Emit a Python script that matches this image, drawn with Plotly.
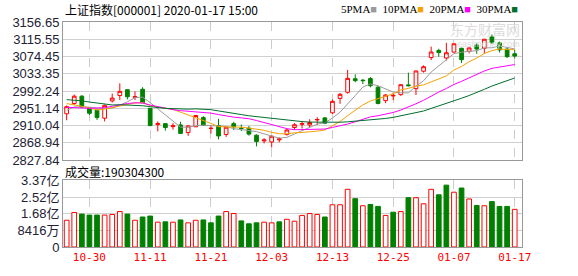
import plotly.graph_objects as go
import pandas as pd

# ---------------- data ----------------
dates = ["2019-10-25", "2019-10-28", "2019-10-29", "2019-10-30", "2019-10-31",
         "2019-11-01", "2019-11-04", "2019-11-05", "2019-11-06", "2019-11-07",
         "2019-11-08", "2019-11-11", "2019-11-12", "2019-11-13", "2019-11-14",
         "2019-11-15", "2019-11-18", "2019-11-19", "2019-11-20", "2019-11-21",
         "2019-11-22", "2019-11-25", "2019-11-26", "2019-11-27", "2019-11-28",
         "2019-11-29", "2019-12-02", "2019-12-03", "2019-12-04", "2019-12-05",
         "2019-12-06", "2019-12-09", "2019-12-10", "2019-12-11", "2019-12-12",
         "2019-12-13", "2019-12-16", "2019-12-17", "2019-12-18", "2019-12-19",
         "2019-12-20", "2019-12-23", "2019-12-24", "2019-12-25", "2019-12-26",
         "2019-12-27", "2019-12-30", "2019-12-31", "2020-01-02", "2020-01-03",
         "2020-01-06", "2020-01-07", "2020-01-08", "2020-01-09", "2020-01-10",
         "2020-01-13", "2020-01-14", "2020-01-15", "2020-01-16", "2020-01-17"]

opens = [2938.1, 2962.5, 2980.0, 2951.9, 2946.6, 2927.6, 2968.7, 2981.6, 2995.4, 2977.5,
         2996.5, 2951.2, 2912.5, 2914.6, 2907.5, 2911.6, 2893.4, 2907.1, 2929.0, 2903.0,
         2910.0, 2888.8, 2914.6, 2904.0, 2903.9, 2887.2, 2873.5, 2871.0, 2876.0, 2888.8,
         2905.5, 2913.0, 2911.6, 2923.5, 2928.3, 2940.4, 2974.7, 2989.3, 3021.5, 3018.0,
         3021.9, 3001.4, 2969.4, 2980.5, 2983.6, 3006.9, 2998.0, 3039.4, 3072.0, 3089.0,
         3070.9, 3085.0, 3094.0, 3087.0, 3102.0, 3094.0, 3121.0, 3107.0, 3092.0, 3081.0]
highs = [2958.0, 2983.6, 2982.5, 2953.0, 2948.0, 2960.0, 2986.1, 3010.5, 2997.0, 2991.6,
         3001.4, 2952.0, 2919.9, 2915.5, 2916.0, 2919.2, 2910.0, 2935.0, 2932.5, 2911.0,
         2926.0, 2908.0, 2919.0, 2912.5, 2909.0, 2889.0, 2880.0, 2886.0, 2882.0, 2902.0,
         2916.0, 2921.0, 2925.0, 2930.0, 2930.5, 2972.0, 2987.5, 3042.5, 3032.0, 3021.0,
         3025.5, 3004.5, 2985.0, 2988.0, 3008.5, 3036.0, 3041.0, 3053.5, 3098.0, 3093.0,
         3107.0, 3105.0, 3095.5, 3096.0, 3105.5, 3116.5, 3127.0, 3110.0, 3096.0, 3091.0]
lows = [2922.6, 2959.6, 2951.5, 2935.0, 2923.5, 2919.9, 2965.0, 2971.0, 2972.4, 2971.0,
        2964.0, 2908.5, 2896.3, 2897.9, 2900.5, 2891.0, 2885.6, 2906.5, 2910.5, 2891.0,
        2877.0, 2883.0, 2899.5, 2897.0, 2886.0, 2860.5, 2867.5, 2858.0, 2870.0, 2886.0,
        2900.0, 2903.0, 2906.0, 2912.0, 2913.5, 2938.0, 2961.9, 2986.0, 3013.0, 3009.0,
        3001.0, 2960.5, 2963.3, 2970.5, 2981.0, 3003.0, 2983.0, 3036.0, 3066.0, 3074.0,
        3065.0, 3084.0, 3059.0, 3082.0, 3081.0, 3081.0, 3105.0, 3084.0, 3071.0, 3070.0]
closes = [2954.93, 2980.05, 2954.18, 2939.32, 2929.06, 2958.20, 2975.49, 2991.56, 2978.60, 2978.71,
          2964.18, 2909.97, 2914.82, 2905.24, 2909.87, 2891.34, 2909.20, 2933.99, 2911.05, 2903.64,
          2885.29, 2906.17, 2907.06, 2903.19, 2889.69, 2871.98, 2875.81, 2884.70, 2878.12, 2899.47,
          2912.01, 2914.48, 2917.32, 2924.42, 2915.70, 2967.68, 2984.39, 3022.42, 3017.04, 3017.07,
          3004.94, 2962.75, 2982.68, 2981.88, 3007.35, 3005.04, 3040.02, 3050.12, 3085.20, 3083.79,
          3083.41, 3104.80, 3066.89, 3094.88, 3092.29, 3115.57, 3106.82, 3090.04, 3074.08, 3075.50]
volumes = [135100000, 174200000, 166100000, 161200000, 161200000, 161200000, 164400000, 179100000,
           166100000, 135100000, 151400000, 156300000, 125400000, 127000000, 125400000, 136800000,
           122100000, 135100000, 136800000, 122100000, 156300000, 179100000, 169300000, 131900000,
           117200000, 122100000, 125400000, 122100000, 127000000, 140000000, 130200000, 159500000,
           169300000, 164400000, 151400000, 213300000, 213300000, 291400000, 244200000, 208400000,
           214900000, 205100000, 159500000, 175800000, 179100000, 249100000, 249100000, 218200000,
           291400000, 263700000, 312600000, 276800000, 297900000, 242600000, 210000000, 208400000,
           229500000, 205100000, 205100000, 190304300]
# closes of the 29 sessions before the first visible day (needed for the moving averages)
prior_closes = [2999.60, 3024.74, 3021.20, 3008.81, 3031.24, 3030.75, 2978.12, 2985.34, 2999.28,
                3006.45, 2977.08, 2985.34, 2955.43, 2929.09, 2932.17, 2905.19, 2913.57, 2924.86,
                2947.71, 2973.66, 3007.88, 2991.05, 2978.71, 2977.33, 2938.14, 2939.62, 2954.38,
                2941.62, 2940.92]

price_ticks = [2827.84, 2868.94, 2910.04, 2951.14, 2992.24, 3033.35, 3074.45, 3115.55, 3156.65]
price_tick_text = ["2827.84", "2868.94", "2910.04", "2951.14", "2992.24", "3033.35", "3074.45",
                   "3115.55", "3156.65"]
vol_ticks = [0, 84160000, 168320000, 252480000, 336640000]
vol_tick_text = ["0", "8416万", "1.68亿", "2.52亿", "3.37亿"]
date_tick_labels = ["10-30", "11-11", "11-21", "12-03", "12-13", "12-25", "01-07", "01-17"]

ma_windows = [5, 10, 20, 30]
ma_names = ["5PMA", "10PMA", "20PMA", "30PMA"]
ma_colors = ["#9a9a9a", "#f5a300", "#ff00ff", "#006f2c"]

title_text = "上证指数[000001] 2020-01-17 15:00"
volume_label = "成交量"

# ---------------- derived ----------------
RED = "#ff0000"
GREEN = "#008000"
n = len(dates)
xs = list(range(n))
all_close = pd.Series(prior_closes + closes)
mas = [all_close.rolling(w).mean().iloc[len(prior_closes):].tolist() for w in ma_windows]
prev_close = [prior_closes[-1]] + closes[:-1]
vol_up = [c >= p for c, p in zip(closes, prev_close)]
tick_idx = [i for i, d in enumerate(dates) if d[5:] in date_tick_labels]
tick_txt = [dates[i][5:] for i in tick_idx]

fig = go.Figure()

for m, name, col in zip(mas, ma_names, ma_colors):
    fig.add_trace(go.Scatter(x=xs, y=m, mode="lines", name=name,
                             line=dict(color=col, width=1), xaxis="x", yaxis="y",
                             hoverinfo="skip"))

fig.add_trace(go.Candlestick(
    x=xs, open=opens, high=highs, low=lows, close=closes,
    increasing=dict(line=dict(color=RED, width=1), fillcolor="#ffffff"),
    decreasing=dict(line=dict(color=GREEN, width=1), fillcolor=GREEN),
    whiskerwidth=0, xaxis="x", yaxis="y", name="K"))

fig.add_trace(go.Bar(
    x=xs, y=volumes, width=0.62, xaxis="x2", yaxis="y2",
    marker=dict(color=["#ffffff" if u else GREEN for u in vol_up],
                line=dict(color=[RED if u else GREEN for u in vol_up], width=1))))

L, R, T, B = 57, 56, 22, 21
W, H = 578, 276
ph = H - T - B
def py(p):
    return (H - B - p) / ph

main_dom = [py(165), 1.0]
vol_dom = [0.0, py(186)]

axis_font = dict(family="Liberation Sans, Arial, Noto Sans CJK SC", size=13, color="#222233")
common_x = dict(range=[-0.48, n - 0.04], showgrid=True, gridcolor="#cccccc", griddash="dash",
                gridwidth=1, tickvals=tick_idx, showline=True, mirror=True,
                linecolor="#999999", linewidth=1, zeroline=False, ticks="",
                fixedrange=True)

fig.update_layout(
    width=W, height=H, margin=dict(l=L, r=R, t=T, b=B, pad=0),
    paper_bgcolor="#ffffff", plot_bgcolor="#ffffff", showlegend=False,
    xaxis=dict(**common_x, anchor="y", showticklabels=False,
               rangeslider=dict(visible=False)),
    xaxis2=dict(**common_x, anchor="y2", matches="x", ticktext=tick_txt,
                tickfont=dict(family="DejaVu Sans Mono, monospace", size=11, color=RED)),
    yaxis=dict(domain=main_dom, range=[price_ticks[0], price_ticks[-1]], tickvals=price_ticks,
               ticktext=price_tick_text, showgrid=True, gridcolor="#d0d0d0", gridwidth=1,
               showline=True, mirror=True, linecolor="#999999", linewidth=1, zeroline=False,
               tickfont=axis_font, ticks=""),
    yaxis2=dict(domain=vol_dom, range=[vol_ticks[0], vol_ticks[-1]], tickvals=vol_ticks,
                ticktext=vol_tick_text, showgrid=True, gridcolor="#d0d0d0", gridwidth=1,
                showline=True, mirror=True, linecolor="#999999", linewidth=1, zeroline=False,
                tickfont=axis_font, ticks=""),
)

cjk = "Noto Sans CJK SC, sans-serif"
legend_html = "  ".join(
    f"{nm}<span style='color:{c}'>■</span>" for nm, c in zip(ma_names, ma_colors))

fig.add_annotation(text=title_text, xref="paper", yref="paper", x=0, y=py(9),
                   xanchor="left", yanchor="middle", showarrow=False,
                   font=dict(family=cjk, size=12, color="#000000"))
fig.add_annotation(text=legend_html, xref="paper", yref="paper", x=(337 - L) / (W - L - R),
                   y=py(9), xanchor="left", yanchor="middle", showarrow=False,
                   font=dict(family="Liberation Serif, serif", size=11, color="#000000"))
fig.add_annotation(text=f"{volume_label}:{volumes[-1]}", xref="paper", yref="paper", x=0,
                   y=py(177), xanchor="left", yanchor="middle", showarrow=False,
                   font=dict(family=cjk, size=12, color="#000000"))
fig.add_annotation(text="东方财富网", xref="paper", yref="paper", x=1.0, y=py(29),
                   xanchor="right", yanchor="middle", showarrow=False,
                   font=dict(family=cjk, size=14, color="#dcdcdc"))
fig.add_annotation(text="eastmoney.com", xref="paper", yref="paper", x=1.0, y=py(45),
                   xanchor="right", yanchor="middle", showarrow=False,
                   font=dict(family="Liberation Sans, sans-serif", size=9, color="#dcdcdc"))

fig.write_html("out.html", config={"displayModeBar": False})
